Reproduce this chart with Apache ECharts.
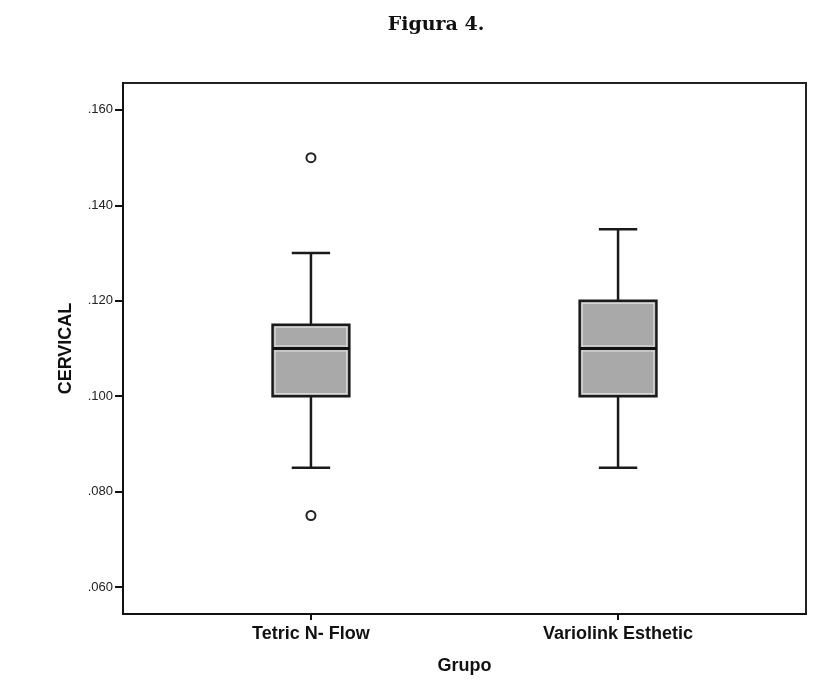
<!DOCTYPE html>
<html>
<head>
<meta charset="utf-8">
<script src="https://cdn.jsdelivr.net/npm/echarts@6/dist/echarts.min.js"></script>
<style>html,body{margin:0;padding:0;background:#fff}#c{width:832px;height:680px}</style>
</head>
<body>
<div id="c"></div>
<script>
// ---- Data ----
var categories = ['Tetric N- Flow', 'Variolink Esthetic'];
var lowWhisker = [0.085, 0.085];
var q1 = [0.100, 0.100];
var median = [0.110, 0.110];
var q3 = [0.115, 0.120];
var highWhisker = [0.130, 0.135];
// outliers: [category index, value]
var outliers = [[0, 0.150], [0, 0.075]];
var yTickValues = [0.06, 0.08, 0.10, 0.12, 0.14, 0.16];
var yTickLabels = ['.060', '.080', '.100', '.120', '.140', '.160'];

// ---- Build ----
var boxData = categories.map(function (c, i) {
  return [i + 1, lowWhisker[i], q1[i], median[i], q3[i], highWhisker[i]];
});
var outlierData = outliers.map(function (o) { return [o[0] + 1, o[1]]; });

var chart = echarts.init(document.getElementById('c'), null, { renderer: 'canvas' });

function renderBox(params, api) {
  var x = api.value(0);
  var band = api.size([1, 0])[0];
  var boxW = band * 0.25;
  var capW = band * 0.125;
  var pLow = api.coord([x, api.value(1)]);
  var pQ1 = api.coord([x, api.value(2)]);
  var pMed = api.coord([x, api.value(3)]);
  var pQ3 = api.coord([x, api.value(4)]);
  var pHigh = api.coord([x, api.value(5)]);
  var cx = pMed[0];
  var lineStyle = { stroke: '#1a1a1a', lineWidth: 2.5 };
  return {
    type: 'group',
    children: [
      { type: 'line', shape: { x1: cx, y1: pQ3[1], x2: cx, y2: pHigh[1] }, style: lineStyle },
      { type: 'line', shape: { x1: cx, y1: pQ1[1], x2: cx, y2: pLow[1] }, style: lineStyle },
      { type: 'line', shape: { x1: cx - capW / 2, y1: pHigh[1], x2: cx + capW / 2, y2: pHigh[1] }, style: lineStyle },
      { type: 'line', shape: { x1: cx - capW / 2, y1: pLow[1], x2: cx + capW / 2, y2: pLow[1] }, style: lineStyle },
      { type: 'rect', shape: { x: cx - boxW / 2, y: pQ3[1], width: boxW, height: pQ1[1] - pQ3[1] },
        style: { fill: '#a9a9a9', stroke: '#1a1a1a', lineWidth: 2.5 } },
      { type: 'rect', shape: { x: cx - boxW / 2 + 2.5, y: pQ3[1] + 2.5, width: boxW - 5, height: pQ1[1] - pQ3[1] - 5 },
        style: { fill: 'none', stroke: '#e4e4e4', lineWidth: 1 } },
      { type: 'line', shape: { x1: cx - boxW / 2 + 2.5, y1: pMed[1] - 2.5, x2: cx + boxW / 2 - 2.5, y2: pMed[1] - 2.5 },
        style: { stroke: '#e4e4e4', lineWidth: 1 } },
      { type: 'line', shape: { x1: cx - boxW / 2 + 2.5, y1: pMed[1] + 2.5, x2: cx + boxW / 2 - 2.5, y2: pMed[1] + 2.5 },
        style: { stroke: '#e4e4e4', lineWidth: 1 } },
      { type: 'line', shape: { x1: cx - boxW / 2, y1: pMed[1], x2: cx + boxW / 2, y2: pMed[1] },
        style: { stroke: '#111', lineWidth: 3 } }
    ]
  };
}

var option = {
  animation: false,
  title: {
    text: 'Figura 4.',
    left: 431,
    top: 11,
    textAlign: 'center',
    textStyle: { fontFamily: 'DejaVu Serif', fontWeight: 'bold', fontSize: 19, color: '#111' }
  },
  grid: {
    left: 123, right: 26, top: 83, bottom: 64,
    show: true, borderColor: '#222', borderWidth: 2, backgroundColor: 'transparent'
  },
  xAxis: {
    type: 'value',
    min: 0.388, max: 2.612,
    name: 'Grupo',
    nameLocation: 'middle',
    nameGap: 43,
    nameTextStyle: { fontFamily: 'Liberation Sans', fontWeight: 'bold', fontSize: 18, color: '#111' },
    splitLine: { show: false },
    axisLine: { show: true, lineStyle: { color: '#111', width: 2 } },
    axisTick: { show: true, customValues: [1, 2], length: 6, lineStyle: { color: '#111', width: 2 } },
    axisLabel: {
      customValues: [1, 2],
      formatter: function (v) { return categories[Math.round(v) - 1] || ''; },
      margin: 11,
      fontFamily: 'Liberation Sans', fontWeight: 'bold', fontSize: 18, color: '#111'
    }
  },
  yAxis: {
    type: 'value',
    min: 0.05436, max: 0.16564,
    name: 'CERVICAL',
    nameLocation: 'middle',
    nameRotate: 90,
    nameGap: 48,
    nameTextStyle: { fontFamily: 'Liberation Sans', fontWeight: 'bold', fontSize: 18, color: '#111' },
    splitLine: { show: false },
    axisLine: { show: true, lineStyle: { color: '#111', width: 2 } },
    axisTick: { show: true, customValues: yTickValues, length: 8, lineStyle: { color: '#111', width: 2 } },
    axisLabel: {
      customValues: yTickValues,
      formatter: function (v) {
        for (var i = 0; i < yTickValues.length; i++) {
          if (Math.abs(yTickValues[i] - v) < 1e-9) return yTickLabels[i];
        }
        return '';
      },
      margin: 10,
      fontFamily: 'Liberation Sans', fontSize: 13, color: '#222'
    }
  },
  series: [
    {
      type: 'custom',
      renderItem: renderBox,
      data: boxData,
      encode: { x: 0, y: [1, 2, 3, 4, 5] },
      z: 2
    },
    {
      type: 'scatter',
      data: outlierData,
      symbol: 'circle',
      symbolSize: 9,
      itemStyle: { color: '#fff', borderColor: '#222', borderWidth: 2, opacity: 1 },
      z: 3
    }
  ]
};
chart.setOption(option);
</script>
</body>
</html>
